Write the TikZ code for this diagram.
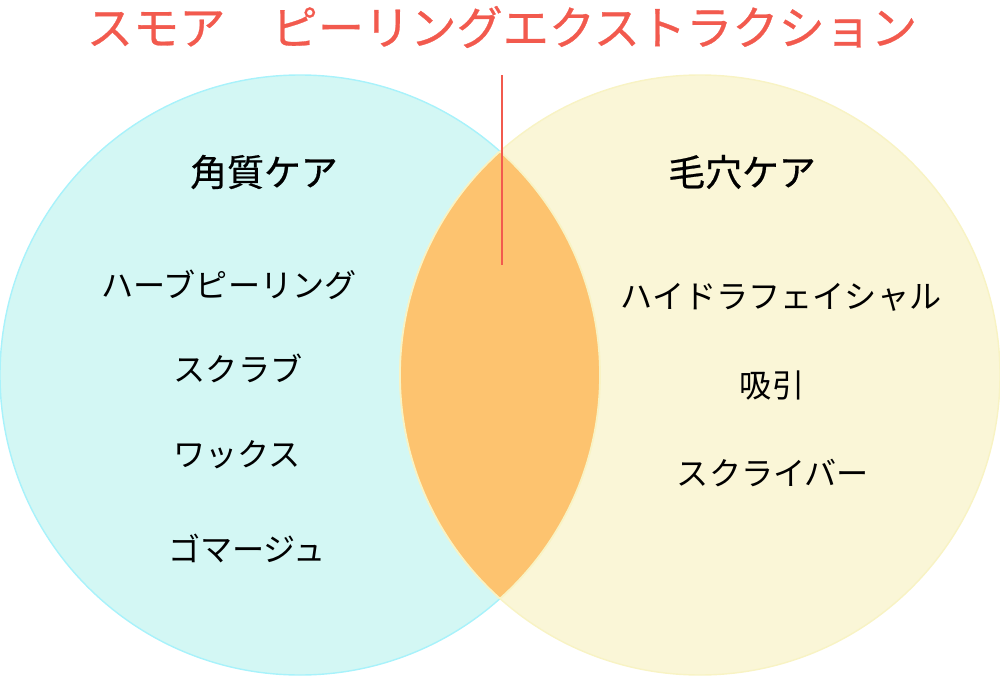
\documentclass[tikz,border=0pt]{standalone}
\usepackage{fontspec}
\usepackage{tikz}
\newfontfamily\jp{Noto Sans CJK JP}
\newfontfamily\jpmed[FakeBold=0.6]{Noto Sans CJK JP}
\definecolor{kakushitsu}{HTML}{D3F7F4}
\definecolor{kakushitsuline}{HTML}{A8F2FB}
\definecolor{keana}{HTML}{FAF6D7}
\definecolor{keanaline}{HTML}{F8F3C4}
\definecolor{both}{HTML}{FDC36F}
\definecolor{titlered}{HTML}{F25A4E}
\tikzset{
  heading/.style={font=\jpmed\fontsize{21pt}{25pt}\selectfont, text=black},
  item/.style={font=\jp\fontsize{18.3pt}{22pt}\selectfont, text=black},
}

\begin{document}
\begin{tikzpicture}[x=0.02cm, y=-0.02cm]
        \useasboundingbox (0,0) rectangle (1000,676);
        % Define the circles
        \fill[kakushitsu] (300,375) circle (300);
        \draw[kakushitsuline, line width=0.8pt] (300,375) circle (300);
        \fill[keana] (700,375) circle (300);
        \draw[keanaline, line width=0.8pt] (700,375) circle (300);
        \begin{scope}
            \clip (300,375) circle (300);
            \fill[both] (700,375) circle (300);
            \draw[keanaline, line width=1pt] (700,375) circle (300);
        \end{scope}
        \begin{scope}
            \clip (700,375) circle (300);
            \draw[keanaline, line width=1pt] (300,375) circle (300);
        \end{scope}
        
        % Define the title and the marker line
        \node[font=\jpmed\fontsize{26.3pt}{30pt}\selectfont, text=titlered] (title) at (502,27) {スモア　ピーリングエクストラクション};
        \coordinate (mtop) at (502,75);
        \coordinate (mbot) at (502,265);
        \draw[titlered, line width=1.1pt] (mtop) -- (mbot);
        
        % Define the left side
        \node[heading] (kaku) at (264,172) {角質ケア};
        \node[item] (herb) at (229,285) {ハーブピーリング};
        \node[item] (scrub) at (238,368) {スクラブ};
        \node[item] (wax) at (237,455) {ワックス};
        \node[item] (gom) at (247,548) {ゴマージュ};
        
        % Define the right side
        \node[heading] (keana) at (742,172) {毛穴ケア};
        \node[item] (hydra) at (781,297) {ハイドラフェイシャル};
        \node[item] (kyuin) at (772,385) {吸引};
        \node[item] (scri) at (773,473) {スクライバー};
        
    \end{tikzpicture}
\end{document}
